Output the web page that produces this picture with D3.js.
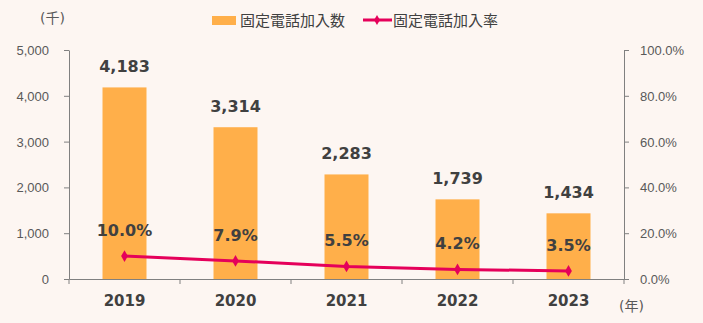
<!DOCTYPE html>
<html><head><meta charset="utf-8">
<script src="https://cdn.jsdelivr.net/npm/d3@7"></script>
<style>body{margin:0;background:#FDF6F2;}svg{display:block;font-family:"DejaVu Sans","Noto Sans CJK JP",sans-serif;}</style>
</head><body><svg id="c" width="703" height="323"></svg>
<script>
const years = ["2019","2020","2021","2022","2023"];
const subscribers = [4183, 3314, 2283, 1739, 1434];
const rates = [10.0, 7.9, 5.5, 4.2, 3.5];
const leftTicks = [0, 1000, 2000, 3000, 4000, 5000];
const rightTicks = [0, 20, 40, 60, 80, 100];

const svg = d3.select("#c");
svg.append("rect").attr("width",703).attr("height",323).attr("fill","#FDF6F2");
const L=69, R=624, T=50, B=279;
const xb = d3.scaleBand().domain(years).range([L,R]);
const y = d3.scaleLinear().domain([0,5000]).range([B,T]);
const y2 = d3.scaleLinear().domain([0,100]).range([B,T]);
const fmt = d3.format(",");
const axisCol = "#808080", tickText = "#595959", labCol = "#404040";

// bars
svg.selectAll(".bar").data(years).join("rect")
  .attr("x", d=>xb(d)+xb.bandwidth()/2-22).attr("width",44)
  .attr("y", (d,i)=>y(subscribers[i])).attr("height",(d,i)=>B-y(subscribers[i]))
  .attr("fill","#FFAF4A");

// axes
const gl = svg.append("g").attr("transform",`translate(${L},0)`)
  .call(d3.axisLeft(y).tickValues(leftTicks).tickFormat(fmt).tickSize(5).tickSizeOuter(0));
const gr = svg.append("g").attr("transform",`translate(${R},0)`)
  .call(d3.axisRight(y2).tickValues(rightTicks).tickFormat(d=>d.toFixed(1)+"%").tickSize(5).tickSizeOuter(0));
const gx = svg.append("g").attr("transform",`translate(0,${B})`)
  .call(d3.axisBottom(xb).tickSize(0).tickFormat(""));
[gl,gr,gx].forEach(g=>{g.select(".domain").attr("stroke",axisCol);g.selectAll("line").attr("stroke",axisCol);});
gl.selectAll("text").attr("fill",tickText).attr("font-size",13).attr("x",-20).attr("dy","0.35em");
gr.selectAll("text").attr("fill",tickText).attr("font-size",13).attr("x",16).attr("dy","0.35em");
// x ticks at band boundaries
const bounds = years.map(d=>xb(d)).concat([R]);
svg.selectAll(".xt").data(bounds).join("line")
  .attr("x1",d=>d).attr("x2",d=>d).attr("y1",B).attr("y2",B+5).attr("stroke",axisCol);
svg.selectAll(".xl").data(years).join("text")
  .attr("x",d=>xb(d)+xb.bandwidth()/2).attr("y",306).attr("text-anchor","middle")
  .attr("font-size",15).attr("font-weight","bold").attr("fill",labCol).text(d=>d);

// bar labels
svg.selectAll(".bl").data(years).join("text")
  .attr("x",d=>xb(d)+xb.bandwidth()/2).attr("y",(d,i)=>y(subscribers[i])-15)
  .attr("text-anchor","middle").attr("font-size",16).attr("font-weight","bold").attr("fill",labCol)
  .text((d,i)=>fmt(subscribers[i]));

// line
const cx = d=>xb(d)+xb.bandwidth()/2;
svg.append("path").datum(years)
  .attr("d", d3.line().x(cx).y((d,i)=>y2(rates[i])))
  .attr("fill","none").attr("stroke","#E5005A").attr("stroke-width",3);
svg.selectAll(".mk").data(years).join("path")
  .attr("transform",(d,i)=>`translate(${cx(d)},${y2(rates[i])})`)
  .attr("d", d3.symbol(d3.symbolDiamond,40)).attr("fill","#E5005A");
svg.selectAll(".rl").data(years).join("text")
  .attr("x",cx).attr("y",(d,i)=>y2(rates[i])-20)
  .attr("text-anchor","middle").attr("font-size",16).attr("font-weight","bold").attr("fill",labCol)
  .text((d,i)=>rates[i].toFixed(1)+"%");

// unit labels
svg.append("text").attr("x",40).attr("y",23).attr("font-size",14).attr("fill",tickText).text("(千)");
svg.append("text").attr("x",619).attr("y",311).attr("font-size",14).attr("fill",tickText).text("(年)");

// legend
svg.append("rect").attr("x",212).attr("y",16).attr("width",24).attr("height",9).attr("fill","#FFAF4A");
svg.append("text").attr("x",240).attr("y",26).attr("font-size",15).attr("fill",labCol).text("固定電話加入数");
svg.append("line").attr("x1",363).attr("x2",392).attr("y1",20).attr("y2",20).attr("stroke","#E5005A").attr("stroke-width",3);
svg.append("path").attr("transform","translate(377,20)").attr("d",d3.symbol(d3.symbolDiamond,30)).attr("fill","#E5005A");
svg.append("text").attr("x",393).attr("y",26).attr("font-size",15).attr("fill",labCol).text("固定電話加入率");
</script></body></html>
